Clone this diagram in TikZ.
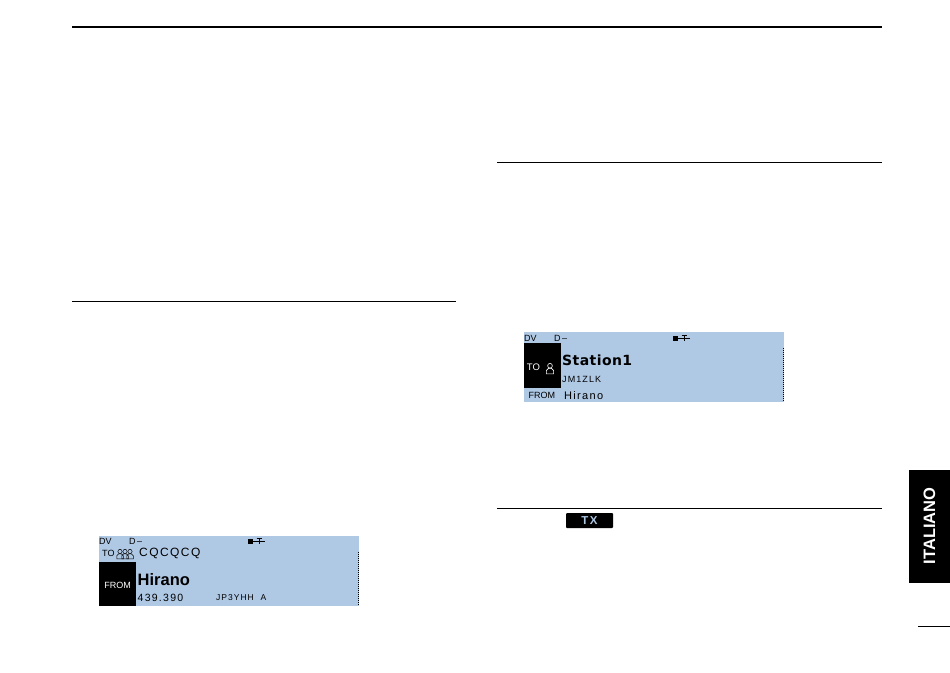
\documentclass[tikz,border=0pt]{standalone}
\usepackage{fontspec}
\setmainfont{Liberation Sans}
\newfontfamily\lcdwide[LetterSpace=12]{Liberation Sans}
\newfontfamily\lcdname[LetterSpace=3]{DejaVu Sans}
\definecolor{lcdblue}{RGB}{175,200,228}
\tikzset{
	rulebar/.style={line width=1pt,black},
	lcdtext/.style={inner sep=0pt,anchor=west,black},
	lcdinv/.style={inner sep=0pt,white},
	person/.style={line width=0.5pt}
}
% small head and shoulders glyph of the display
\newcommand{\lcdperson}[3]{
	\begin{scope}[shift={(#1,#2)},person,#3]
		\draw (0,-1.6) circle (1.7);
		\draw (-2.6,4.2) -- (-2.6,1.8) -- (-1,0.2) -- (1,0.2) -- (2.6,1.8) -- (2.6,4.2) -- cycle;
	\end{scope}
}
% status row, same for both displays
\newcommand{\lcdstatus}[3]{
	\node[lcdtext,font=\fontsize{9}{10}\selectfont] (dv#3) at (#1,#2) {DV};
	\node[lcdtext,font=\fontsize{9}{10}\selectfont] (dstar#3) at (#1+30,#2) {D\,--};
	\fill (#1+149,#2-2.5) rectangle (#1+154,#2+2.5);
	\draw[line width=0.7pt] (#1+154,#2) -- (#1+166,#2);
	\draw[line width=0.7pt] (#1+160,#2-3) -- (#1+160,#2+3);
	\draw[line width=0.7pt] (#1+157.5,#2-2.5) -- (#1+162.5,#2-2.5);
}
\begin{document}
\begin{tikzpicture}[x=1pt,y=-1pt]
	\useasboundingbox (0,0) rectangle (950,672);
	\draw[rulebar,line width=1.6pt] (72,27) -- (882,27);
	\draw[rulebar] (72,301) -- (456,301);
	\draw[rulebar] (497,162) -- (882,162);
	\draw[rulebar] (497,508) -- (882,508);
	\draw[line width=0.9pt] (918,626) -- (950,626);

	% display on the left
	\fill[lcdblue] (99,536) rectangle (359,606);
	\fill[black] (99,562) rectangle (136,606);
	\lcdstatus{99}{541}{a}
	\node[lcdtext,font=\fontsize{9}{10}\selectfont] (toa) at (102,553.5) {TO};
	\foreach \x in {120,125,130}{
		\lcdperson{\x}{553.5}{scale=1.25}
	}
	\node[lcdtext,font=\lcdwide\fontsize{12}{13}\selectfont] (cqcq) at (139,553.5) {CQCQCQ};
	\node[lcdinv,font=\fontsize{9}{10}\selectfont] (froma) at (117.5,585) {FROM};
	\node[lcdtext,font=\bfseries\fontsize{16.5}{18}\selectfont] (hiranoa) at (137.5,579.5) {Hirano};
	\node[lcdtext,font=\lcdwide\fontsize{10.5}{12}\selectfont] (freq) at (137.5,598) {439.390};
	\node[lcdtext,font=\lcdwide\fontsize{8.5}{10}\selectfont] (call) at (216,597.5) {JP3YHH\ \ A};
	\draw[line width=1pt,dash pattern=on 1pt off 1pt] (358,552) -- (358,605);

	% display on the right
	\fill[lcdblue] (524,332) rectangle (784,402);
	\fill[black] (524,343) rectangle (561,388);
	\lcdstatus{524}{338}{b}
	\node[lcdinv,font=\fontsize{9.5}{11}\selectfont] (tob) at (533.5,367.5) {TO};
	\lcdperson{550}{368}{scale=1.4,white,line width=0.6pt}
	\node[lcdtext,font=\lcdname\bfseries\fontsize{14}{16}\selectfont] (station) at (562,360) {Station1};
	\node[lcdtext,font=\lcdwide\fontsize{9}{11}\selectfont] (jm) at (562,379.5) {JM1ZLK};
	\node[lcdtext,font=\fontsize{9}{10}\selectfont] (fromb) at (528.5,395.5) {FROM};
	\node[lcdtext,font=\lcdwide\fontsize{11}{12}\selectfont] (hiranob) at (564,396) {Hirano};
	\draw[line width=1pt,dash pattern=on 1pt off 1pt] (783,348) -- (783,402);

	% key and tab
	\node[fill=black,rounded corners=1pt,minimum width=47pt,minimum height=15pt,inner sep=0pt,text=lcdblue,font=\lcdwide\bfseries\fontsize{11.5}{13}\selectfont] (txkey) at (589.5,520.5) {TX};
	\fill[black] (909,470) rectangle (951,583);
	\node[white,rotate=90,inner sep=0pt,font=\bfseries\fontsize{16.5}{18}\selectfont] (tab) at (929.5,526) {ITALIANO};
\end{tikzpicture}
\end{document}
